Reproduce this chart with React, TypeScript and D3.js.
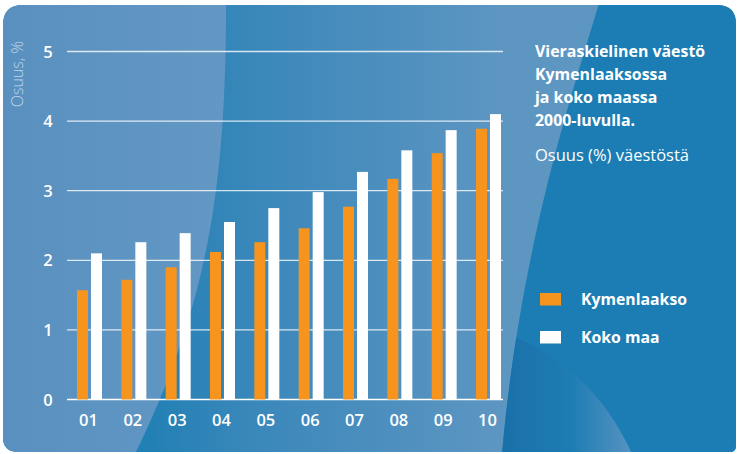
import React from "react";
import * as d3 from "d3";

const years = ["01", "02", "03", "04", "05", "06", "07", "08", "09", "10"];
const kymenlaakso = [1.57, 1.72, 1.9, 2.12, 2.26, 2.46, 2.77, 3.17, 3.54, 3.89];
const kokoMaa = [2.1, 2.26, 2.39, 2.55, 2.75, 2.98, 3.27, 3.58, 3.87, 4.1];
const yTicks = [0, 1, 2, 3, 4, 5];
const seriesNames = ["Kymenlaakso", "Koko maa"];
const seriesColors = ["#f7941d", "#ffffff"];
const titleLines = ["Vieraskielinen väestö", "Kymenlaaksossa", "ja koko maassa", "2000-luvulla."];
const subtitle = "Osuus (%) väestöstä";
const yAxisLabel = "Osuus, %";

const W = 737;
const H = 454;
const FONT = "'Open Sans', 'DejaVu Sans', sans-serif";

export default function App() {
  const y = d3.scaleLinear().domain([0, 5]).range([399.5, 51.5]);
  const x = d3.scaleBand<string>().domain(years).range([77, 501]).paddingInner(0.436).paddingOuter(0);
  const xs = d3.scaleBand<string>().domain(seriesNames).range([0, x.bandwidth()]).paddingInner(3 / 14);
  const series = [kymenlaakso, kokoMaa];

  const card = "M3,25 Q3,5 23,5 L717,5 Q736,5 736,24 L736,446 Q736,452 730,452 L18,452 Q3,452 3,437 Z";
  const regionA = "M0,0 L226,0 C226,180 210,300 135,454 L0,454 Z";
  const regionC = "M600,0 C570,100 520,250 502,454 L737,454 L737,0 Z";
  const arcBR = "M470,322 Q585,350 632,454 L470,454 Z";

  return (
    <div style={{ position: "fixed", left: 0, top: 0, width: W, height: H, background: "#fff" }}>
      <svg width={W} height={H} style={{ display: "block" }}>
        <defs>
          <clipPath id="cardClip">
            <path d={card} />
          </clipPath>
          <clipPath id="regionCClip">
            <path d={regionC} />
          </clipPath>
          <linearGradient id="gMid" x1="135" x2="505" y1="0" y2="0" gradientUnits="userSpaceOnUse">
            <stop offset="0" stopColor="#1f7fb4" />
            <stop offset="0.3" stopColor="#3987ba" />
            <stop offset="1" stopColor="#5e96c2" />
          </linearGradient>
          <linearGradient id="gLeft" x1="3" x2="226" y1="0" y2="0" gradientUnits="userSpaceOnUse">
            <stop offset="0" stopColor="#5990bf" />
            <stop offset="1" stopColor="#6398c4" />
          </linearGradient>
          <linearGradient id="gArc" x1="500" x2="630" y1="0" y2="0" gradientUnits="userSpaceOnUse">
            <stop offset="0" stopColor="#1a70a9" />
            <stop offset="0.55" stopColor="#1e7db3" />
            <stop offset="1" stopColor="#5592c1" />
          </linearGradient>
        </defs>

        <g clipPath="url(#cardClip)">
          <rect x={0} y={0} width={W} height={H} fill="url(#gMid)" />
          <path d={regionA} fill="url(#gLeft)" />
          <path d={regionC} fill="#1b7db3" />
          <g clipPath="url(#regionCClip)">
            <path d={arcBR} fill="url(#gArc)" />
          </g>
        </g>

        {/* gridlines */}
        {yTicks.map((t) => (
          <line
            key={t}
            x1={67}
            x2={503}
            y1={y(t)}
            y2={y(t)}
            stroke="#ffffff"
            strokeOpacity={t === 0 ? 1 : 0.8}
            strokeWidth={1.3}
          />
        ))}

        {/* bars */}
        {years.map((yr, i) => (
          <g key={yr} transform={`translate(${x(yr)},0)`}>
            {series.map((vals, s) => (
              <rect
                key={s}
                x={xs(seriesNames[s])}
                y={y(vals[i])}
                width={xs.bandwidth()}
                height={y(0) - y(vals[i])}
                fill={seriesColors[s]}
              />
            ))}
          </g>
        ))}

        {/* y tick labels */}
        {yTicks.map((t) => (
          <text
            key={t}
            x={48}
            y={y(t) + 6}
            textAnchor="middle"
            fill="#fff"
            fontFamily={FONT}
            fontWeight={600}
            fontSize={16.5}
          >
            {t}
          </text>
        ))}

        {/* x tick labels */}
        {years.map((yr) => (
          <text
            key={yr}
            x={(x(yr) as number) + x.bandwidth() / 2 - 1}
            y={426}
            textAnchor="middle"
            fill="#fff"
            fontFamily={FONT}
            fontWeight={600}
            fontSize={16.5}
          >
            {yr}
          </text>
        ))}

        {/* y axis label */}
        <text
          transform="translate(23,74) rotate(-90)"
          textAnchor="middle"
          fill="#d3e3f0"
          fillOpacity={0.85}
          fontFamily={FONT}
          fontWeight={300}
          fontSize={16}
        >
          {yAxisLabel}
        </text>

        {/* title */}
        {titleLines.map((l, i) => (
          <text
            key={i}
            x={535}
            y={57 + i * 23}
            fill="#fff"
            fontFamily={FONT}
            fontWeight={700}
            fontSize={15.9}
          >
            {l}
          </text>
        ))}
        <text x={535} y={161} fill="#fff" fontFamily={FONT} fontWeight={400} fontSize={16.5}>
          {subtitle}
        </text>

        {/* legend */}
        {seriesNames.map((n, i) => (
          <g key={n} transform={`translate(540,${293 + i * 38})`}>
            <rect x={0} y={0} width={21} height={12.5} fill={seriesColors[i]} />
            <text x={41} y={12} fill="#fff" fontFamily={FONT} fontWeight={700} fontSize={15.8}>
              {n}
            </text>
          </g>
        ))}
      </svg>
    </div>
  );
}
